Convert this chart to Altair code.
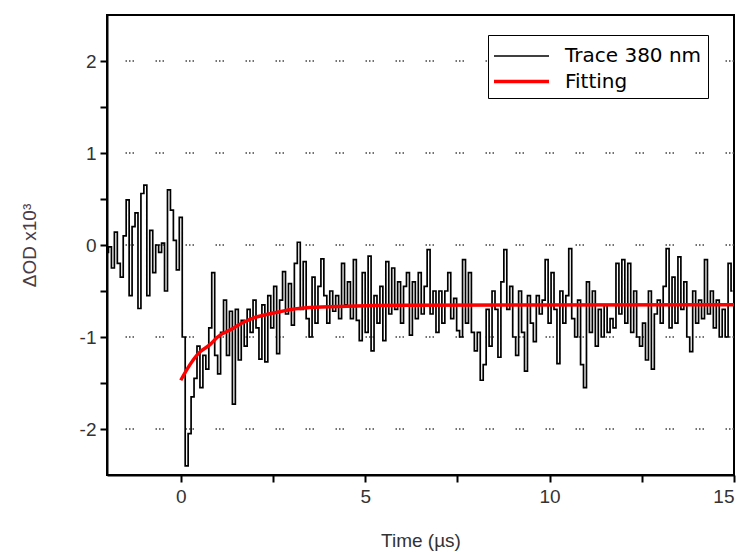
import altair as alt
import pandas as pd

# ---- data ----
t_start = -2.0          # first sample time (µs)
t_step = 0.08           # sampling interval (µs)
trace_od = [
    -0.08, -0.02, -0.25, 0.14, -0.2, -0.35, 0.1, 0.49, -0.55, 0.2,
    0.35, -0.69, 0.56, 0.65, -0.55, 0.16, -0.3, 0.0, -0.08, 0.02,
    -0.5, 0.6, 0.38, 0.05, -0.27, 0.3, -1.0, -2.4, -2.05, -1.65,
    -1.45, -1.1, -1.55, -1.2, -1.35, -0.9, -0.3, -1.2, -1.4, -0.95,
    -0.6, -1.2, -0.72, -1.73, -0.7, -1.25, -0.82, -1.1, -0.7, -0.95,
    -0.6, -0.9, -1.24, -0.65, -1.27, -0.55, -0.9, -0.45, -1.18, -0.6,
    -0.29, -0.75, -0.42, -0.87, -0.2, 0.03, -0.7, -0.18, -0.8, -1.0,
    -0.35, -0.85, -0.45, -0.15, -0.55, -0.85, -0.5, -0.72, -0.55, -0.8,
    -0.2, -0.65, -0.4, -0.8, -0.16, -0.82, -1.04, -0.3, -0.95, -0.12,
    -1.15, -0.55, -0.85, -0.45, -1.04, -0.18, -0.75, -0.25, -0.7, -0.4,
    -0.85, -0.45, -0.3, -0.98, -0.4, -0.8, -0.3, -0.75, -0.45, -0.05,
    -0.75, -0.5, -0.95, -0.5, -0.85, -0.5, -0.3, -0.8, -0.58, -0.93,
    -1.0, -0.16, -0.85, -0.3, -0.95, -1.15, -0.95, -1.47, -1.3, -0.7,
    -1.1, -0.5, -0.7, -1.22, -0.4, -0.05, -0.7, -0.45, -1.0, -1.2,
    -0.5, -0.95, -1.37, -0.55, -0.85, -1.05, -0.55, -0.75, -0.6, -0.16,
    -0.85, -0.3, -0.7, -1.29, -0.5, -0.85, -0.55, -0.04, -0.8, -1.0,
    -0.6, -1.3, -1.55, -0.4, -0.95, -0.5, -1.1, -0.7, -1.0, -0.65,
    -0.95, -0.8, -0.9, -0.2, -0.75, -0.16, -0.85, -0.2, -0.95, -0.5,
    -1.0, -1.1, -0.85, -1.25, -0.5, -1.35, -0.75, -0.6, -0.85, -0.45,
    -0.04, -0.9, -0.35, -0.85, -0.13, -0.7, -0.4, -1.0, -1.16, -0.5,
    -0.85, -0.6, -0.8, -0.16, -0.75, -0.5, -0.9, -0.6, -1.0, -0.7,
    -1.0, -0.2, -0.5,
]
fit_time = [0, 0.25, 0.5, 0.8, 1.0, 1.4, 1.7, 2.0, 2.5, 3.0, 3.5, 4.5, 6.0, 15.0]
fit_od = [-1.47, -1.3, -1.17, -1.08, -1.0, -0.91, -0.84, -0.79, -0.74, -0.70,
          -0.68, -0.665, -0.655, -0.65]
series_names = ["Trace 380 nm", "Fitting"]
series_colors = ["black", "red"]
series_widths = [1.7, 3.5]
x_ticks = [0, 2.5, 5, 7.5, 10, 12.5, 15]
y_ticks = [-2, -1.5, -1, -0.5, 0, 0.5, 1, 1.5, 2]
y_grid = [-2, -1, 0, 1, 2]

trace_df = pd.DataFrame({
    "time": [round(t_start + i * t_step, 3) for i in range(len(trace_od))],
    "od": trace_od,
    "series": series_names[0],
})
fit_df = pd.DataFrame({"time": fit_time, "od": fit_od, "series": series_names[1]})
grid_df = pd.DataFrame({"od": y_grid})

FONT = "Liberation Sans"
TXT = "#333333"

x_enc = alt.X(
    "time:Q",
    scale=alt.Scale(domain=[-2, 15], nice=False, zero=False),
    axis=alt.Axis(
        values=x_ticks,
        labelExpr="datum.value % 5 == 0 ? '' + datum.value : ''",
        title="Time (µs)",
        titleY=65,
        titleBaseline="middle",
        labelPadding=5,
    ),
)
y_enc = alt.Y(
    "od:Q",
    scale=alt.Scale(domain=[-2.5, 2.5], nice=False, zero=False),
    axis=alt.Axis(
        values=y_ticks,
        labelExpr="datum.value % 1 == 0 ? '' + datum.value : ''",
        title="ΔOD x10³",
        titleX=-78,
        titleY=230,
        titleBaseline="middle",
        titleColor="#4a3a44",
        labelPadding=4,
    ),
)

legend = alt.Legend(
    title=None,
    orient="none",
    legendX=381,
    legendY=20,
    symbolType="M-2,0L2,0",
    symbolSize=756,
    symbolOffset=12,
    labelOffset=28,
    padding=6,
    rowPadding=0,
    strokeColor="black",
    fillColor="white",
    labelFont="DejaVu Sans",
    labelFontSize=20,
    labelColor="black",
)
color_enc = alt.Color("series:N", scale=alt.Scale(domain=series_names, range=series_colors), legend=legend)
width_enc = alt.StrokeWidth("series:N", scale=alt.Scale(domain=series_names, range=series_widths), legend=legend)

grid = alt.Chart(grid_df).mark_rule(
    color="#444444", strokeWidth=1.5, strokeDash=[1.5, 2, 1.5, 2, 1.5, 21.5]
).encode(y=y_enc)

trace = alt.Chart(trace_df).mark_line(interpolate="step").encode(
    x=x_enc, y=y_enc, color=color_enc, strokeWidth=width_enc
)
fit = alt.Chart(fit_df).mark_line(interpolate="monotone").encode(
    x=x_enc, y=y_enc, color=color_enc, strokeWidth=width_enc
)

chart = (
    alt.layer(grid, trace, fit)
    .properties(
        width=627,
        height=460,
        autosize=alt.AutoSizeParams(type="none"),
        padding={"left": 107, "top": 15, "right": 11, "bottom": 77},
        background="white",
    )
    .configure_view(stroke="black", strokeWidth=2)
    .configure_axis(
        domainColor="black",
        domainWidth=2,
        tickColor="black",
        tickWidth=2,
        tickSize=7,
        grid=False,
        labelFont=FONT,
        labelFontSize=19,
        labelColor=TXT,
        titleFont=FONT,
        titleFontSize=19,
        titleFontWeight="normal",
        titleColor=TXT,
    )
)

chart.save("out.html", embed_options={"renderer": "svg", "actions": False})
